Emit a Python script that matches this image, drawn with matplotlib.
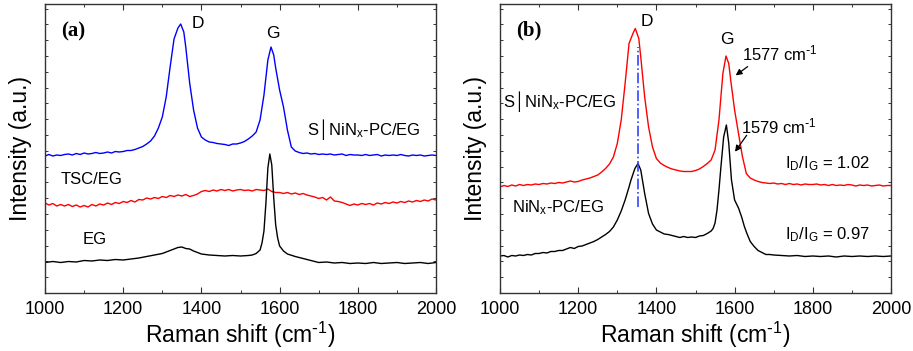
import matplotlib
matplotlib.use("Agg")
import matplotlib.pyplot as plt
from matplotlib.ticker import MultipleLocator, FixedLocator, NullFormatter

plt.rcParams['font.family'] = ['Liberation Sans', 'DejaVu Sans']
plt.rcParams['mathtext.default'] = 'regular'

# ---------------- Panel (a) data ----------------
a_blue_x = [1000, 1010, 1020, 1030, 1040, 1050, 1060, 1070, 1080, 1090, 1100, 1110, 1120, 1130, 1140,
            1150, 1160, 1170, 1180, 1190, 1200, 1210, 1220, 1230, 1240, 1250, 1260, 1270, 1280, 1290,
            1300, 1310, 1320, 1330, 1340, 1347, 1355, 1360, 1370, 1380, 1390, 1400, 1410, 1420, 1430,
            1440, 1450, 1460, 1470, 1480, 1490, 1500, 1510, 1520, 1530, 1540, 1550, 1560, 1570, 1578,
            1585, 1590, 1600, 1610, 1620, 1630, 1640, 1650, 1660, 1670, 1680, 1690, 1700, 1710, 1720,
            1730, 1740, 1750, 1760, 1770, 1780, 1790, 1800, 1810, 1820, 1830, 1840, 1850, 1860, 1870,
            1880, 1890, 1900, 1910, 1920, 1930, 1940, 1950, 1960, 1970, 1980, 1990, 2000]
a_blue_y = [137, 138.5, 137, 138, 137.5, 138.5, 139, 138, 139.5, 138.5, 140, 139, 139.5, 140.5, 139.5,
            140, 141, 140, 141.5, 141, 141.5, 142.5, 142.5, 143.5, 145, 146.5, 149, 152, 157, 165,
            176, 196, 226, 254, 265, 269, 261, 246, 210, 183, 165, 156, 153, 151, 150.5,
            149.5, 149, 148.5, 147.5, 149, 149, 150, 151.5, 154, 157, 161, 173, 198, 233, 246,
            238, 225, 203, 186, 163, 146, 142, 140.5, 139.5, 140, 139, 139.5, 138.5, 139, 138.5,
            139, 138, 138.5, 139, 137.5, 138.5, 138, 138, 137.5, 138.5, 137.5, 138, 138.5, 137, 138,
            137.5, 138, 137.5, 138.5, 137.5, 137, 138, 137.5, 138, 137, 137.5, 138, 137.5]

a_red_x = [1000, 1010, 1020, 1030, 1040, 1050, 1060, 1070, 1080, 1090, 1100, 1110, 1120, 1130, 1140,
           1150, 1160, 1170, 1180, 1190, 1200, 1210, 1220, 1230, 1240, 1250, 1260, 1270, 1280, 1290,
           1300, 1310, 1320, 1330, 1340, 1350, 1360, 1370, 1380, 1390, 1400, 1410, 1420, 1430, 1440,
           1450, 1460, 1470, 1480, 1490, 1500, 1510, 1520, 1530, 1540, 1550, 1560, 1570, 1580, 1590,
           1600, 1610, 1620, 1630, 1640, 1650, 1660, 1670, 1680, 1690, 1700, 1710, 1720, 1730, 1740,
           1750, 1760, 1770, 1780, 1790, 1800, 1810, 1820, 1830, 1840, 1850, 1860, 1870, 1880, 1890,
           1900, 1910, 1920, 1930, 1940, 1950, 1960, 1970, 1980, 1990, 2000]
a_red_y = [90, 88, 89.5, 87, 88.5, 87, 88.5, 86.5, 88, 86, 87.5, 86, 88.5, 87, 89,
           88, 90, 88.5, 90.5, 89.5, 91.5, 90.5, 92.5, 91, 93.5, 93, 95, 94, 95.5, 94.5,
           96.5, 95.5, 97.5, 96.5, 98, 97, 98.5, 96.5, 97.5, 99, 101.5, 102.5, 101.5, 103, 102,
           103.5, 102.5, 103.5, 102, 103, 103.5, 102.5, 103, 102, 103.5, 103, 102.5, 104, 101.5, 100.5,
           100.5, 99.5, 100.5, 99, 100, 98.5, 99.5, 98, 97, 96, 94.5, 95.5, 93, 96, 92,
           91.5, 90.5, 89, 87.5, 89, 88, 89.5, 88.5, 89.5, 88, 90, 89, 90.5, 89.5, 91,
           90, 91.5, 90.5, 92, 91, 92.5, 91.5, 93, 92, 94, 93]

a_black_x = [1000, 1020, 1040, 1060, 1080, 1100, 1120, 1140, 1160, 1180, 1200, 1220, 1240, 1260, 1280,
             1300, 1310, 1320, 1330, 1340, 1350, 1360, 1370, 1380, 1390, 1400, 1420, 1440, 1460, 1480,
             1500, 1520, 1530, 1540, 1550, 1555, 1560, 1565, 1570, 1575, 1580, 1585, 1590, 1595, 1600,
             1610, 1620, 1640, 1660, 1680, 1700, 1720, 1740, 1760, 1780, 1800, 1820, 1840, 1860, 1880,
             1900, 1920, 1940, 1960, 1980, 2000]
a_black_y = [30.5, 31.5, 30.5, 31.5, 31, 32.5, 32, 33, 32.5, 33.5, 33, 34, 35, 36.5, 38,
             39.5, 41, 42.5, 44, 45.5, 46, 44.5, 44, 42, 40.5, 39, 38, 37.5, 37, 37.5,
             37, 37.5, 38, 39.5, 43, 50, 62, 90, 125, 139, 128, 95, 68, 55, 47,
             42, 39, 36.5, 34.5, 32.5, 30.5, 31, 30, 30.5, 29.5, 30, 29.5, 30.5, 29.5, 30,
             30.5, 29.5, 30, 30.5, 29.5, 30.5]

# ---------------- Panel (b) data ----------------
b_red_x = [1000, 1010, 1020, 1030, 1040, 1050, 1060, 1070, 1080, 1090, 1100, 1110, 1120, 1130, 1140,
           1150, 1160, 1170, 1180, 1190, 1200, 1210, 1220, 1230, 1240, 1250, 1260, 1270, 1280, 1290,
           1300, 1310, 1320, 1330, 1340, 1346, 1355, 1360, 1370, 1380, 1390, 1400, 1410, 1420, 1430,
           1440, 1450, 1460, 1470, 1480, 1490, 1500, 1510, 1520, 1530, 1540, 1550, 1560, 1570, 1578,
           1585, 1590, 1600, 1610, 1620, 1630, 1640, 1650, 1660, 1670, 1680, 1690, 1700, 1710, 1720,
           1730, 1740, 1750, 1760, 1770, 1780, 1790, 1800, 1810, 1820, 1830, 1840, 1850, 1860, 1870,
           1880, 1890, 1900, 1910, 1920, 1930, 1940, 1950, 1960, 1970, 1980, 1990, 2000]
b_red_y = [106, 107.5, 106.5, 108, 107, 108.5, 107.5, 108.5, 108, 109, 108.5, 109.5, 109, 110, 109.5,
           110.5, 110, 111, 112, 111, 111.5, 113, 114, 115, 116.5, 118, 121, 124.5, 129, 136,
           149.5, 173, 209.5, 249.5, 259.5, 264.5, 254.5, 236, 196, 166, 146, 134.5, 130, 127.5, 125.5,
           124, 123, 122, 121.5, 121.5, 121.5, 122.5, 124, 126.5, 129.5, 133, 143, 173, 219.5, 237,
           229.5, 213, 183, 159.5, 136.5, 119.5, 115, 113, 111.5, 110.5, 110, 109.5, 110, 109, 109.5,
           108.5, 109.5, 108.5, 109, 108, 109, 108.5, 108.5, 109, 108, 108.5, 107.5, 108.5, 107.5, 108,
           107.5, 108.5, 108, 107, 108, 107.5, 108, 107, 107.5, 108, 107, 107.5, 107.5]

b_black_x = [1000, 1010, 1020, 1030, 1040, 1050, 1060, 1070, 1080, 1090, 1100, 1110, 1120, 1130, 1140,
             1150, 1160, 1170, 1180, 1190, 1200, 1210, 1220, 1230, 1240, 1250, 1260, 1270, 1280, 1290,
             1300, 1310, 1320, 1330, 1335, 1345, 1353, 1360, 1370, 1380, 1390, 1400, 1410, 1420, 1430,
             1440, 1450, 1460, 1470, 1480, 1490, 1500, 1510, 1520, 1530, 1540, 1545, 1550, 1555, 1560,
             1565, 1572, 1579, 1585, 1592, 1600, 1610, 1618, 1625, 1632, 1640, 1650, 1660, 1670, 1680,
             1690, 1700, 1720, 1740, 1760, 1780, 1800, 1820, 1840, 1860, 1880, 1900, 1920, 1940, 1960,
             1980, 2000]
b_black_y = [37, 37.5, 36, 37.5, 37, 38, 37.5, 38.5, 38, 39.5, 39.5, 40.5, 40, 41.5, 41.5,
             42.5, 42.5, 44, 45.5, 44.5, 46.5, 47, 48.5, 50, 51.5, 53.5, 56, 58.5, 61.5, 66,
             73, 82, 93, 106, 113, 124.5, 129.5, 123, 99.5, 79.5, 69, 63, 61, 59, 58.5,
             57.5, 56.5, 55.5, 56.5, 55.5, 56, 55.5, 57, 57.5, 59.5, 62, 64.5, 70, 83, 103,
             126, 156, 168, 150, 113, 93, 85, 76, 66.5, 59, 51.5, 46.5, 42.5, 40.5, 38.5,
             38.5, 38, 37.5, 37, 37.5, 36.5, 37, 36.5, 37, 36, 37, 36.5, 37, 36.5, 37,
             36.5, 37]

d_line_x = 1352
d_line_y = [86, 246]

xlim = (1000, 2000)
ylim = (0, 289)
xticks = [1000, 1200, 1400, 1600, 1800, 2000]

fig = plt.figure(figsize=(9.13, 3.51), dpi=100)
axa = fig.add_axes([45 / 913, 1 - 293 / 351, 391 / 913, 289 / 351])
axb = fig.add_axes([500 / 913, 1 - 293 / 351, 391 / 913, 289 / 351])

sup = r'$^{\text{-}1}$'
spine_c = '#333333'
for ax in (axa, axb):
    ax.set_xlim(*xlim)
    ax.set_ylim(*ylim)
    ax.xaxis.set_major_locator(FixedLocator(xticks))
    ax.xaxis.set_minor_locator(MultipleLocator(100))
    ax.yaxis.set_major_locator(MultipleLocator(15.8))
    ax.yaxis.set_major_formatter(NullFormatter())
    ax.tick_params(axis='x', which='major', direction='in', length=4, width=0.8,
                   top=True, labelsize=13, pad=6, color=spine_c)
    ax.tick_params(axis='x', which='minor', direction='in', length=2.5, width=0.7,
                   top=True, color=spine_c)
    ax.tick_params(axis='y', which='major', direction='in', length=2.5, width=0.7,
                   right=True, color=spine_c)
    for s in ax.spines.values():
        s.set_color(spine_c)
        s.set_linewidth(1.0)
    ax.set_xlabel('Raman shift (cm' + sup + ')', fontsize=16.5, labelpad=1)
    ax.set_ylabel('Intensity (a.u.)', fontsize=16.5, labelpad=6)

# Panel (a)
axa.plot(a_blue_x, a_blue_y, color='#0000ff', lw=1.0)
axa.plot(a_red_x, a_red_y, color='#ff0000', lw=1.0)
axa.plot(a_black_x, a_black_y, color='black', lw=1.0)
axa.text(1041, 262, '(a)', family=['Liberation Serif'], weight='bold', fontsize=15, va='center', ha='left')
axa.text(1392, 270, 'D', fontsize=12.5, ha='center', va='center')
axa.text(1582, 260, 'G', fontsize=12.5, ha='center', va='center')
axa.text(1669, 163, 'S\u2502NiN$_x$-PC/EG', fontsize=12, ha='left', va='center')
axa.text(1041, 113, 'TSC/EG', fontsize=12, ha='left', va='center')
axa.text(1096, 53, 'EG', fontsize=12, ha='left', va='center')

# Panel (b)
axb.plot(b_red_x, b_red_y, color='#ff0000', lw=1.0)
axb.plot(b_black_x, b_black_y, color='black', lw=1.0)
axb.plot([d_line_x, d_line_x], d_line_y, color='#3344ff', lw=1.2, ls='-.')
axb.text(1041, 263, '(b)', family=['Liberation Serif'], weight='bold', fontsize=15, va='center', ha='left')
axb.text(1375, 272, 'D', fontsize=12.5, ha='center', va='center')
axb.text(1580, 253, 'G', fontsize=12.5, ha='center', va='center')
axb.text(1620, 240, '1577 cm' + sup, fontsize=12, ha='left', va='center')
axb.text(1616, 167, '1579 cm' + sup, fontsize=12, ha='left', va='center')
axb.text(1729, 129, 'I$_D$/I$_G$ = 1.02', fontsize=12, ha='left', va='center')
axb.text(1729, 58, 'I$_D$/I$_G$ = 0.97', fontsize=12, ha='left', va='center')
axb.text(1007, 191, 'S\u2502NiN$_x$-PC/EG', fontsize=12, ha='left', va='center')
axb.text(1031, 85, 'NiN$_x$-PC/EG', fontsize=12, ha='left', va='center')
axb.annotate('', xy=(1597, 216), xytext=(1639, 228),
             arrowprops=dict(arrowstyle='-|>', color='black', lw=0.9, mutation_scale=9))
axb.annotate('', xy=(1597, 139), xytext=(1635, 160),
             arrowprops=dict(arrowstyle='-|>', color='black', lw=0.9, mutation_scale=9))

fig.savefig('out.png', dpi=100)
